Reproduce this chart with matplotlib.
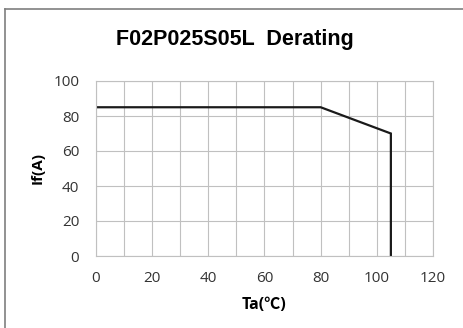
import matplotlib
matplotlib.use("Agg")
import matplotlib.pyplot as plt
from matplotlib.lines import Line2D

# derating curve
ta = [0, 80, 105, 105]
current = [85, 85, 70, 0]
x_ticks = [0, 20, 40, 60, 80, 100, 120]
y_ticks = [0, 20, 40, 60, 80, 100]
title = "F02P025S05L  Derating"

tick_font = ["Open Sans", "Noto Sans CJK SC", "DejaVu Sans"]

fig = plt.figure(figsize=(4.64, 3.28), dpi=100)
ax = fig.add_axes([96/464, 72/328, 337/464, 175/328])

ax.plot(ta, current, color="#1a1a1a", lw=1.6, solid_joinstyle="miter")

ax.set_xlim(0, 120)
ax.set_ylim(0, 100)
ax.set_yticks(y_ticks)
ax.set_xticks(range(0, 121, 10))
ax.set_xticklabels([str(v) if v in x_ticks else "" for v in range(0, 121, 10)])
ax.grid(True, color="#c0c0c0", lw=0.8)
ax.set_axisbelow(True)
for s in ax.spines.values():
    s.set_color("#c0c0c0")
    s.set_linewidth(0.8)
ax.tick_params(length=0, labelsize=11, colors="#333333")
ax.tick_params(axis="y", pad=12)
ax.tick_params(axis="x", pad=11)
for lab in ax.get_xticklabels() + ax.get_yticklabels():
    lab.set_family(tick_font)

ax.set_xlabel("Ta(℃)", family=tick_font, fontsize=11.5, fontweight="bold", labelpad=8)
ax.set_ylabel("If(A)", family=tick_font, fontsize=11, fontweight="bold", labelpad=6)

fig.text(235/464, 1 - 40/328, title, ha="center", va="center",
         family="Liberation Sans", fontweight="bold", fontsize=15.5)

# outer gray frame (runs off the right and bottom edges)
fig.add_artist(Line2D([4.5/464, 1.0], [1 - 9/328, 1 - 9/328], color="#7f7f7f", lw=1.2))
fig.add_artist(Line2D([4.5/464, 4.5/464], [0.0, 1 - 9/328], color="#7f7f7f", lw=1.2))

fig.savefig("out.png", dpi=100)
